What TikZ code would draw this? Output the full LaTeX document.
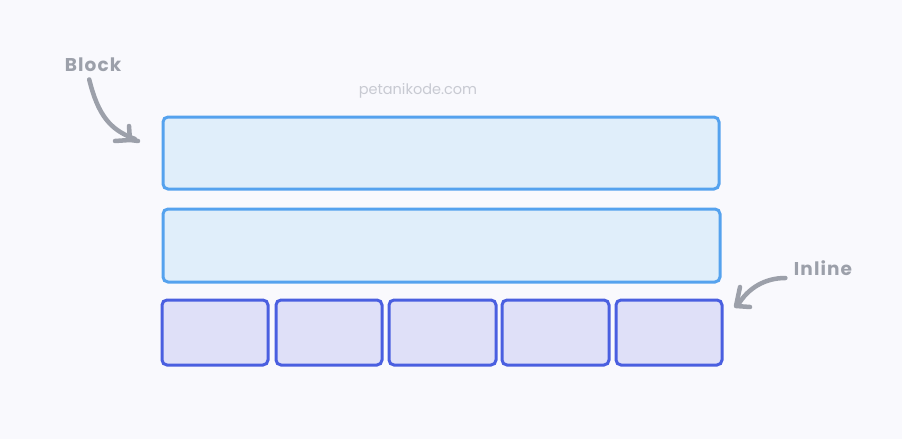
\documentclass[tikz,border=0pt]{standalone}
\usepackage{fontspec}
\setmainfont{Poppins}
\newfontfamily\notefont[LetterSpace=6]{Poppins}
\usetikzlibrary{arrows.meta}
\definecolor{bg}{HTML}{F9F9FD}
\definecolor{blockfill}{HTML}{E0EEFA}
\definecolor{blockdraw}{HTML}{55A2EE}
\definecolor{inlfill}{HTML}{DFE0F8}
\definecolor{inldraw}{HTML}{4A5FE0}
\definecolor{note}{HTML}{9CA0AA}
\definecolor{wm}{HTML}{C8CAD2}
\tikzset{
  blockbox/.style={draw=blockdraw, fill=blockfill, line width=3pt, rounded corners=5pt},
  inlbox/.style={draw=inldraw, fill=inlfill, line width=3pt, rounded corners=5pt},
  notetext/.style={text=note, font=\notefont\fontsize{18.5}{22}\selectfont\bfseries},
  notearrow/.style={draw=note, line width=4.5pt, line cap=round, line join=round},
}
\begin{document}
\begin{tikzpicture}[x=1pt,y=-1pt]
\fill[bg] (0,0) rectangle (902,439);
\useasboundingbox (0,0) rectangle (902,439);
% watermark
\node[text=wm, font=\fontsize{14.5}{17}\selectfont] (wm) at (418,91) {petanikode.com};
% block boxes
\draw[blockbox] (163,117) rectangle (719,189);
\draw[blockbox] (163,209) rectangle (720,282);
% inline boxes
\draw[inlbox] (162,300) rectangle (268,365);
\draw[inlbox] (276,300) rectangle (382,365);
\draw[inlbox] (389,300) rectangle (496,365);
\draw[inlbox] (502,300) rectangle (609,365);
\draw[inlbox] (616,300) rectangle (722,365);
% labels
\node[notetext] (block) at (93,65) {Block};
\node[notetext] (inline) at (823,268) {Inline};
% arrows
\coordinate (bT) at (135,139);
\draw[notearrow] (block.south west) ++(28,4) .. controls (98,115) and (110,130) .. (bT);
\draw[notearrow] (129,126) -- (130,140) -- (115,141) (130,140) -- (138,141);
\coordinate (iT) at (738,305);
\draw[notearrow] (inline.west) ++(-5,10) .. controls (765,278) and (748,288) .. (iT);
\draw[notearrow] (740,287) -- (736,306) -- (750,307);
\end{tikzpicture}
\end{document}
